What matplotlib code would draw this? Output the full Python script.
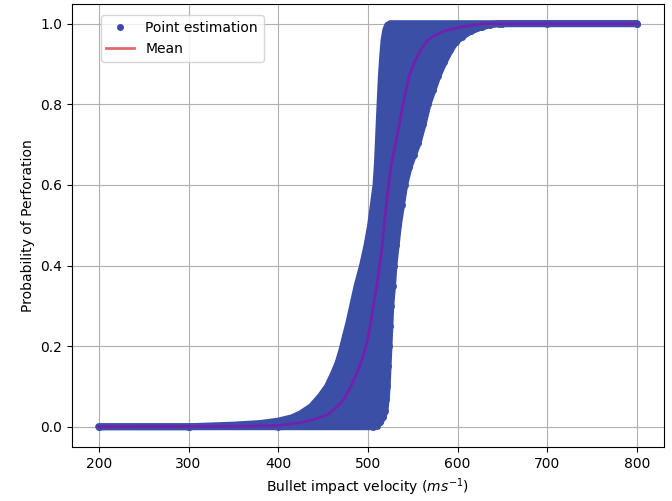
import numpy as np
import matplotlib
matplotlib.use("Agg")
import matplotlib.pyplot as plt
from matplotlib.lines import Line2D

# upper edge of the band of point estimates (highest probability at each velocity)
v_upper = [200, 300, 350, 380, 400, 415, 425, 437, 447, 455, 462, 467, 471, 475, 479, 483, 488, 494, 499, 503,
           506, 509, 510.5, 511.5, 512.5, 513.5, 515, 516.5, 518, 520, 522, 525, 560, 650, 800]
p_upper = [0.0, 0.0, 0.004, 0.008, 0.014, 0.022, 0.032, 0.05, 0.075, 0.1, 0.133, 0.16, 0.19, 0.225, 0.26, 0.30, 0.35, 0.40, 0.45, 0.50,
           0.55, 0.60, 0.65, 0.70, 0.75, 0.80, 0.87, 0.92, 0.96, 0.985, 0.996, 1.0, 1.0, 1.0, 1.0]

# lower edge of the band (lowest probability at each velocity)
v_lower = [200, 300, 400, 506, 510, 514, 517, 519, 520.5, 521.5, 522.5, 523.5, 524.5, 525.5, 527.5, 529, 531.5, 534, 537.5, 541,
           546, 551, 556, 561.5, 567, 572.5, 578, 585, 592, 598, 605, 615, 627, 636, 646, 700, 800]
p_lower = [0.0, 0.0, 0.0, 0.0, 0.003, 0.012, 0.025, 0.04, 0.07, 0.10, 0.15, 0.20, 0.25, 0.30, 0.35, 0.40, 0.45, 0.50, 0.55, 0.60,
           0.645, 0.675, 0.705, 0.75, 0.80, 0.835, 0.87, 0.905, 0.935, 0.955, 0.968, 0.982, 0.992, 0.997, 1.0, 1.0, 1.0]

# mean curve
v_mean = [200, 350, 400, 425, 440, 455, 465, 473, 481, 488, 494, 499, 503, 506, 510, 513, 516, 518, 520.5, 523,
          526, 531, 535, 539, 546, 552, 559, 565, 572, 585, 600, 615, 630, 700, 800]
p_mean = [0.0, 0.001, 0.003, 0.01, 0.018, 0.03, 0.048, 0.067, 0.10, 0.135, 0.17, 0.21, 0.255, 0.30, 0.35, 0.40, 0.45, 0.50, 0.55, 0.60,
          0.65, 0.705, 0.75, 0.80, 0.87, 0.905, 0.935, 0.955, 0.968, 0.982, 0.99, 0.996, 1.0, 1.0, 1.0]

blue = "#3b4fa6"

fig, ax = plt.subplots(figsize=(6.72, 5.01), dpi=100)
fig.subplots_adjust(left=0.107, right=0.988, top=0.993, bottom=0.108)

# band of estimates: fill between both edges on a shared velocity grid
grid = np.union1d(v_upper, v_lower)
ax.fill_between(grid, np.interp(grid, v_lower, p_lower), np.interp(grid, v_upper, p_upper),
                facecolor=blue, edgecolor=blue, lw=0.5, zorder=2)
# edges drawn thick for the marker size
ax.plot(v_upper, p_upper, color=blue, lw=5, solid_capstyle="round", solid_joinstyle="round", zorder=2)
ax.plot(v_lower, p_lower, color=blue, lw=5, solid_capstyle="round", solid_joinstyle="round", zorder=2)
ax.scatter(np.concatenate([v_upper, v_lower]), np.concatenate([p_upper, p_lower]),
           s=25, color=blue, lw=0, zorder=2)

ax.plot(v_mean, p_mean, color=(0.55, 0.05, 0.7), alpha=0.7, lw=2, zorder=3)

ax.set_xlim(170, 830)
ax.set_ylim(-0.05, 1.05)
ax.grid(True, color="#b0b0b0", lw=0.8)
ax.set_axisbelow(True)
ax.set_xlabel("Bullet impact velocity ($ms^{-1}$)")
ax.set_ylabel("Probability of Perforation")

handles = [Line2D([], [], ls="none", marker="o", markersize=4, color="#4048b0"),
           Line2D([], [], color="#e06a6e", lw=2)]
ax.legend(handles, ["Point estimation", "Mean"], loc="upper left",
          bbox_to_anchor=(0.049, 0.973), borderaxespad=0)

fig.savefig("out.png", dpi=100)
